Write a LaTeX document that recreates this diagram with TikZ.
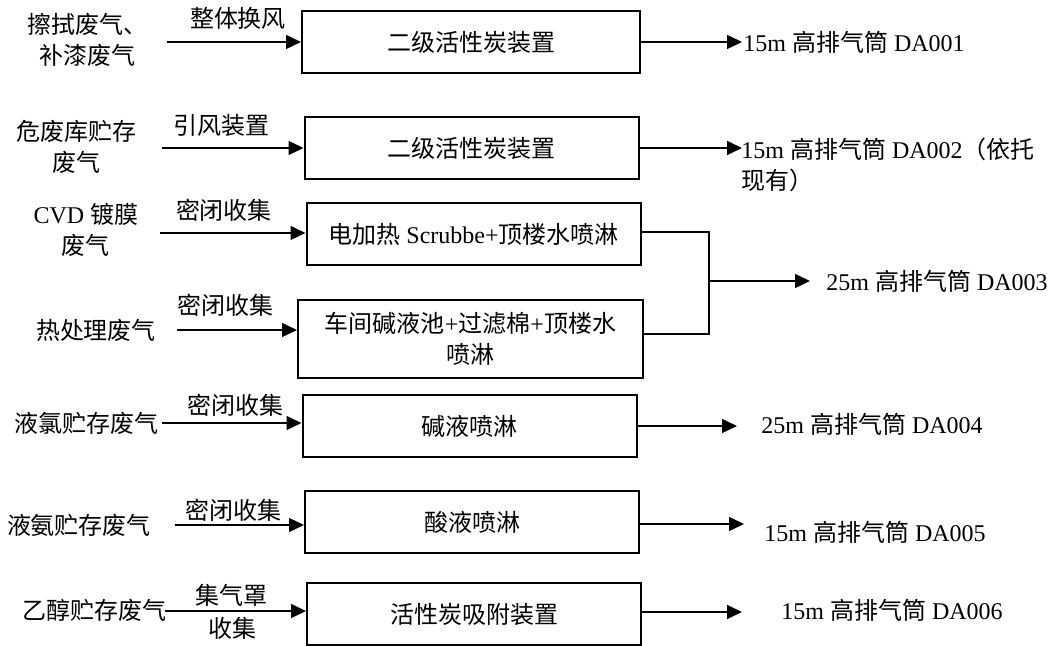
\documentclass[tikz,border=0pt]{standalone}
\usepackage{fontspec}
\setmainfont{Liberation Serif}
\newfontfamily\cjk{Noto Sans CJK SC}
\newcommand{\zh}[1]{{\cjk #1}}
\usepackage{tikz}
\usetikzlibrary{arrows.meta}

\begin{document}
\begin{tikzpicture}[x=0.5pt,y=-0.5pt,>={Triangle[length=7.5pt,width=7pt]},
      font=\fontsize{12}{15.5}\selectfont,
      flow/.style={->,line width=0.7pt},
      merge/.style={line width=1.4pt},
      unit/.style={draw,line width=1pt,minimum width=167pt,minimum height=31pt,align=center,inner sep=2pt},
      src/.style={align=center,inner sep=1pt},
      lbl/.style={inner sep=1pt},
      stack/.style={anchor=west,inner sep=0pt,align=left}]
     \useasboundingbox (0,0) rectangle (1057,646);
     % treatment units
     \node[unit, minimum width=169pt] (box1) at (471,42.5) {\zh{二级活性炭装置}};
     \node[unit] (box2) at (471.5,148.5) {\zh{二级活性炭装置}};
     \node[unit] (box3) at (473.5,234) {\zh{电加热} Scrubbe+\zh{顶楼水喷淋}};
     \node[unit, minimum width=172.5pt, minimum height=39pt] (box4) at (470.5,339) {\zh{车间碱液池}+\zh{过滤棉}+\zh{顶楼水}\\\zh{喷淋}};
     \node[unit] (box5) at (469.5,426) {\zh{碱液喷淋}};
     \node[unit] (box6) at (472,522) {\zh{酸液喷淋}};
     \node[unit] (box7) at (474,614) {\zh{活性炭吸附装置}};
     % waste gas sources
     \node[src] (src1) at (87,40) {\zh{擦拭废气、}\\\zh{补漆废气}};
     \node[src] (src2) at (77,147) {\zh{危废库贮存}\\\zh{废气}};
     \node[src] (src3) at (86,230) {CVD \zh{镀膜}\\\zh{废气}};
     \node[src] (src4) at (96,330) {\zh{热处理废气}};
     \node[src] (src5) at (87,423) {\zh{液氯贮存废气}};
     \node[src] (src6) at (79,525) {\zh{液氨贮存废气}};
     \node[src] (src7) at (95,610) {\zh{乙醇贮存废气}};
     % collection
     \coordinate (in1) at (167,42);
     \coordinate (in2) at (162,148);
     \coordinate (in3) at (160,233);
     \coordinate (in4) at (177,330);
     \coordinate (in5) at (162,423);
     \coordinate (in6) at (175,525);
     \coordinate (in7) at (165,611);
     \foreach \i in {1,...,7}
       \draw[flow] (in\i) -- (in\i -| box\i.west);
     \node[lbl] (how1) at (238,18) {\zh{整体换风}};
     \node[lbl] (how2) at (221,125) {\zh{引风装置}};
     \node[lbl] (how3) at (224,210) {\zh{密闭收集}};
     \node[lbl] (how4) at (225,305) {\zh{密闭收集}};
     \node[lbl] (how5) at (235,405) {\zh{密闭收集}};
     \node[lbl] (how6) at (233,510) {\zh{密闭收集}};
     \node[lbl] (how7) at (231,595) {\zh{集气罩}};
     \node[lbl] (how7b) at (232,628) {\zh{收集}};
     % stacks
     \coordinate (tip1) at (742,42);
     \coordinate (tip2) at (742,148);
     \coordinate (knot3) at (709,232);
     \coordinate (knot4) at (709,334);
     \coordinate (join) at (709,281);
     \coordinate (tip3) at (810,281);
     \coordinate (tip5) at (737,426);
     \coordinate (tip6) at (744,524);
     \coordinate (tip7) at (742,612);
     \draw[flow] (tip1 -| box1.east) -- (tip1);
     \draw[flow] (tip2 -| box2.east) -- (tip2);
     \draw[merge] (knot3 -| box3.east) -- (knot3) -- (knot4) -- (knot4 -| box4.east);
     \draw[flow] (join) -- (tip3);
     \draw[flow] (tip5 -| box5.east) -- (tip5);
     \draw[flow] (tip6 -| box6.east) -- (tip6);
     \draw[flow] (tip7 -| box7.east) -- (tip7);
     \node[stack] (out1) at (743,42) {15m \zh{高排气筒} DA001};
     \node[stack] (out2) at (741,165) {15m \zh{高排气筒} DA002\zh{（依托}\\\zh{现有）}};
     \node[stack] (out3) at (826,281) {25m \zh{高排气筒} DA003};
     \node[stack] (out5) at (761,424) {25m \zh{高排气筒} DA004};
     \node[stack] (out6) at (764,532) {15m \zh{高排气筒} DA005};
     \node[stack] (out7) at (781,610) {15m \zh{高排气筒} DA006};
    \end{tikzpicture}
\end{document}
